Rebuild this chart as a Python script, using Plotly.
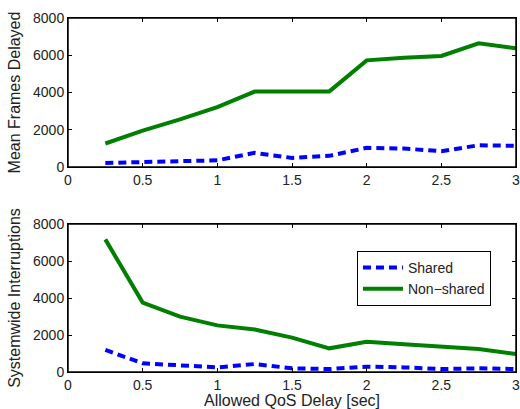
import plotly.graph_objects as go

delay = [0.25, 0.5, 0.75, 1.0, 1.25, 1.5, 1.75, 2.0, 2.25, 2.5, 2.75, 3.0]

frames_shared = [220, 270, 360, 360, 760, 490, 600, 1030, 990, 850, 1170, 1140]
frames_nonshared = [1264, 1950, 2560, 3214, 4050, 4050, 4060, 5725, 5870, 5960, 6645, 6375]

interrupt_shared = [1190, 470, 360, 250, 430, 200, 160, 290, 250, 160, 200, 160]
interrupt_nonshared = [7170, 3750, 2990, 2520, 2300, 1860, 1280, 1640, 1500, 1350, 1240, 970]

y_ticks = [0, 2000, 4000, 6000, 8000]
x_ticks = [0, 0.5, 1, 1.5, 2, 2.5, 3]
x_ticklabels = ["0", "0.5", "1", "1.5", "2", "2.5", "3"]

BLUE = "#0000ff"
GREEN = "#007f00"
FONT = "Liberation Sans, Arial, Helvetica, sans-serif"

TOP_DOMAIN = [0.579, 1]
BOTTOM_DOMAIN = [0, 0.418]

fig = go.Figure()

fig.add_trace(go.Scatter(x=delay, y=frames_shared, mode="lines", name="Shared",
                         line=dict(color=BLUE, width=4, dash="8px,5px"),
                         xaxis="x", yaxis="y", showlegend=False))
fig.add_trace(go.Scatter(x=delay, y=frames_nonshared, mode="lines", name="Non\u2212shared",
                         line=dict(color=GREEN, width=4),
                         xaxis="x", yaxis="y", showlegend=False))
fig.add_trace(go.Scatter(x=delay, y=interrupt_shared, mode="lines", name="Shared",
                         line=dict(color=BLUE, width=4, dash="8px,5px"),
                         xaxis="x2", yaxis="y2"))
fig.add_trace(go.Scatter(x=delay, y=interrupt_nonshared, mode="lines", name="Non\u2212shared",
                         line=dict(color=GREEN, width=4),
                         xaxis="x2", yaxis="y2"))

axis_common = dict(showgrid=False, zeroline=False, showline=True, linecolor="black",
                   linewidth=1, mirror="ticks", ticks="inside", ticklen=4,
                   tickcolor="black", automargin=False, ticklabeloverflow="allow",
                   tickfont=dict(size=14, color="#222", family=FONT))

# tick-only axes on the opposite sides (top / right), like the reference
mirror_common = dict(showgrid=False, zeroline=False, showline=False, ticks="inside",
                     ticklen=4, tickcolor="black", showticklabels=False, automargin=False)

fig.update_layout(
    width=520, height=409,
    paper_bgcolor="white", plot_bgcolor="white",
    margin=dict(l=68, r=4, t=18, b=37),
    font=dict(family=FONT, color="#222"),
    xaxis=dict(domain=[0, 1], range=[0, 3], tickvals=x_ticks, ticktext=x_ticklabels,
               anchor="y", **axis_common),
    yaxis=dict(domain=TOP_DOMAIN, range=[0, 8000], tickvals=y_ticks, anchor="x",
               title=dict(text="Mean Frames Delayed", font=dict(size=16), standoff=8),
               **axis_common),
    xaxis2=dict(domain=[0, 1], range=[0, 3], tickvals=x_ticks, ticktext=x_ticklabels,
                anchor="y2",
                title=dict(text="Allowed QoS Delay [sec]", font=dict(size=16), standoff=6),
                **axis_common),
    yaxis2=dict(domain=BOTTOM_DOMAIN, range=[0, 8000], tickvals=y_ticks, anchor="x2",
                title=dict(text="Systemwide Interruptions", font=dict(size=16), standoff=8),
                **axis_common),
    xaxis3=dict(overlaying="x", side="top", anchor="y", range=[0, 3], tickvals=x_ticks,
                **mirror_common),
    yaxis3=dict(overlaying="y", side="right", anchor="x", range=[0, 8000], tickvals=y_ticks,
                **mirror_common),
    xaxis4=dict(overlaying="x2", side="top", anchor="y2", range=[0, 3], tickvals=x_ticks,
                **mirror_common),
    yaxis4=dict(overlaying="y2", side="right", anchor="x2", range=[0, 8000], tickvals=y_ticks,
                **mirror_common),
    legend=dict(x=0.645, y=0.342, xanchor="left", yanchor="top",
                bgcolor="white", bordercolor="black", borderwidth=1,
                font=dict(size=14, family=FONT, color="#222"),
                tracegroupgap=0, itemwidth=40),
)

# frame boxes around both panels (paper-referenced so they are not clipped)
for dom in (TOP_DOMAIN, BOTTOM_DOMAIN):
    fig.add_shape(type="rect", xref="paper", yref="paper", x0=0, x1=1, y0=dom[0], y1=dom[1],
                  line=dict(color="black", width=1.5), layer="above")

fig.write_html(
    "out.html",
    config={"displayModeBar": False},
    post_script="document.body.style.margin='0';document.documentElement.style.overflow='hidden';",
)
